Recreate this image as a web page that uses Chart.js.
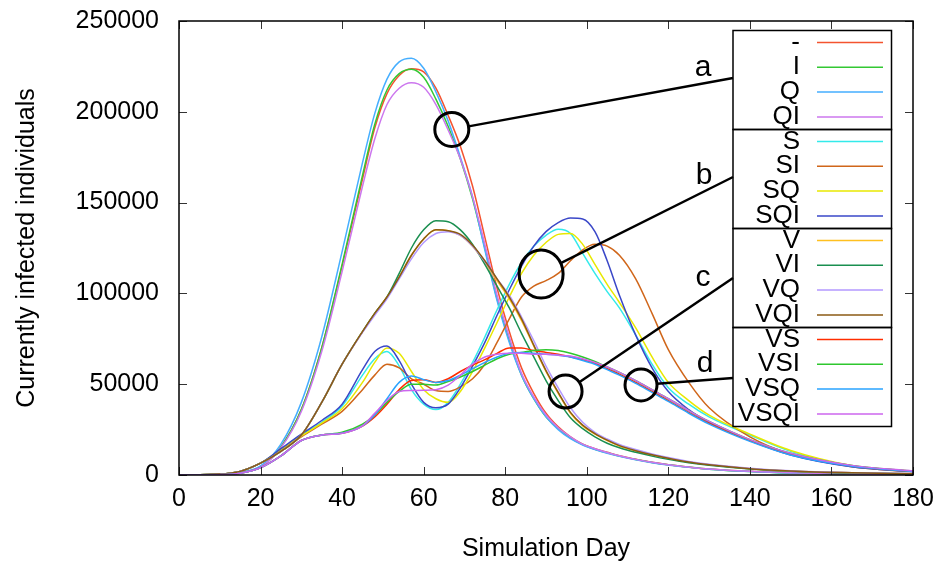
<!DOCTYPE html>
<html>
<head>
<meta charset="utf-8">
<script src="https://cdn.jsdelivr.net/npm/chart.js@4.4.0/dist/chart.umd.min.js"></script>
<style>
  html, body { margin: 0; padding: 0; background: #fff; }
  #wrap { width: 943px; height: 568px; }
</style>
</head>
<body>
<div id="wrap"><canvas id="chart" width="943" height="568"></canvas></div>
<script>
// sample days (x) shared by every series
const days = [0,10,15,20,25,30,35,40,45,48,51,54,57,60,63,66,69,72,75,78,81,84,87,90,93,96,99,102,105,108,112,116,120,125,130,140,150,165,180];

// currently infected individuals, in thousands
const sNone = [0,0.3,1.3,4.5,15.5,36,70,115,163,191,210,220,223.7,222,213,198,181,159,131,103,79,59,45,34,26.5,21,17,14.5,12.5,10.6,8.7,7,5.7,4.4,3.3,2,1.2,0.55,0.3];
const sI    = [0,0.3,1.3,4.5,15.5,36,70,116,165,193,212,221,223.4,219,207,192,174,152,125,97,74,55,42,32,25.5,20.5,16.8,14.2,12.2,10.4,8.5,6.9,5.6,4.3,3.2,1.9,1.1,0.5,0.3];
const sQ    = [0,0.4,1.5,5,17,40,76,123,172,199,218,227.5,229.5,224,211,195,175,153,124,96,73,55,42,32,25,20,16.5,14,12,10.3,8.4,6.8,5.5,4.2,3.2,1.9,1.1,0.5,0.3];
const sQI   = [0,0.3,1.2,4.3,15,35,68,112,159,185,204,213,216,213.5,204,190,174,153,127,99,76,56,43,33,26,21,17,14.5,12.4,10.6,8.6,7,5.7,4.4,3.3,2,1.2,0.55,0.3];

const sS    = [0,0.5,2,6.5,14,22,29,38,55,64,68,60,47,39,36,40,50,62,76,91,105,117,126,132,135.3,133,122,111,101,92,77,61,48,39,32,22,13,5,2];
const sSI   = [0,0.5,2,6.5,13.5,21,28,35,47,55,61,59,53,50,46.5,46,48.5,53,61,73,86,98,104,107,111,118,124,127,126,121,108,89,69,51,37,21,11.5,4.5,1.8];
const sSQ   = [0,0.5,2,6.5,14,21.5,28.5,36.5,51,62,70,67,57,47,42,40,46,57,70,84,98,111,121,128,132.5,133,127,116,105,95,81,65,51,41,33,22.5,13.5,5.2,2];
const sSQI  = [0,0.5,2,6.5,14.5,22.5,30,39,58,68,71,63,50,40,37,39,48,60,73,88,102,115,126,134,139,141.5,141,134,118,99,77,59,46,36,29,19,11,4.5,1.8];

const sV    = [0,0.5,2,6.5,13,22,40,61,79,89,98,109,121,130,135,134.5,132,126,117,107,97,85,71,57,45,34,27,22.5,19,16,13.3,11,9.2,7.1,5.6,3.5,2.2,1.2,0.7];
const sVI   = [0,0.5,2,6.5,13,22,40,61,79,89,98,111,125,135,140,139.5,135,127,116,104,92,78,65,52,41,31.5,25.5,21,17.5,15,12.5,10.4,8.6,6.7,5.3,3.3,2.1,1.1,0.7];
const sVQ   = [0,0.5,2,6.5,13,22,40,61,78.5,88,97,108,119,128,133,134,132,126,117.5,108,99,87,74,60,48,37,29,23.5,19.8,16.8,14,11.6,9.6,7.5,5.9,3.7,2.3,1.3,0.8];
const sVQI  = [0,0.5,2,6.5,13,22,40,61,79,89,98,109,121,130,135,134.5,132.5,126.5,118,108,98,86,71.5,57.5,45.5,34.5,27.5,22.8,19.2,16.2,13.4,11.1,9.2,7.1,5.6,3.5,2.2,1.2,0.7];

const sVS   = [0,0.2,1,4,10.5,19,22,23,27,32,39,47,52,52.5,51,53,57,60.5,63.5,67,70,70,68.5,67.5,66.5,65,63.5,61.5,58.5,55.5,51,46,41,34.5,28.5,19,11.5,5,2];
const sVSI  = [0,0.2,1,4,10.5,19,22,23.5,28,33,40,46,50,50,49.5,51.5,54,57,60.5,64,66.5,67.5,68.5,69,68.5,67,65,62.5,59.5,56.5,52,47,42,35.5,29.5,19.5,12,5.2,2.1];
const sVSQ  = [0,0.2,1,4,10.5,19,22,23,27,33,42,51,54.5,52.5,51,52,55,58.5,62,65,67,67.5,67,66.5,66,65,63,61,58,55,50.5,45.5,40.5,34,28,18.5,11,4.8,1.9];
const sVSQI = [0,0.2,1,4,10.5,19,22,23,27,34,41,46,46.5,46.7,47,49.5,55,61,65,66.5,67,67,66.5,66.5,66,65.5,64,62,59.5,56.5,52,47,42,35.5,29.5,19.5,12,5.3,2.2];

const seriesNames = ['-','I','Q','QI','S','SI','SQ','SQI','V','VI','VQ','VQI','VS','VSI','VSQ','VSQI'];
const seriesData = [sNone,sI,sQ,sQI,sS,sSI,sSQ,sSQI,sV,sVI,sVQ,sVQI,sVS,sVSI,sVSQ,sVSQI];
const colors = ['#f4532f','#33c833','#45aeff','#cc77ee',
                '#33eaea','#d0661a','#e8e800','#3a47c8',
                '#ffc020','#1a8f50','#b399ff','#8b5a14',
                '#ff2d00','#2ec72e','#29a3ff','#cc66ee'];

// circled groups: [letter, day, value, radius x, radius y, legend anchor y, letter x, letter y]
const notes = [
  ['a', 66.9, 190300, 17, 17, 78, 703, 68],
  ['b', 88.8, 110700, 22, 24, 177, 704, 176],
  ['c', 94.8, 46000, 16.5, 16.5, 278, 703, 278],
  ['d', 113.3, 49600, 16, 16, 378, 705, 364]
];

const FONT = "'Liberation Sans', Arial, Helvetica, sans-serif";

const datasets = seriesData.map((arr, i) => ({
  label: seriesNames[i],
  data: days.map((d, j) => ({ x: d, y: arr[j] * 1000 })),
  borderColor: colors[i],
  backgroundColor: colors[i],
  borderWidth: 1.5,
  pointRadius: 0,
  cubicInterpolationMode: 'monotone',
  fill: false,
  order: 16 - i
}));

// frame, inward ticks, grouped key and circled notes
const gnuplotBits = {
  id: 'gnuplotBits',
  afterDatasetsDraw(chart) {
    const ctx = chart.ctx;
    const area = chart.chartArea;
    const xs = chart.scales.x, ys = chart.scales.y;
    ctx.save();

    ctx.strokeStyle = '#333';
    ctx.lineWidth = 1;
    ctx.beginPath();
    xs.ticks.forEach(t => {
      const px = Math.round(xs.getPixelForValue(t.value)) + 0.5;
      ctx.moveTo(px, area.bottom); ctx.lineTo(px, area.bottom - 8);
      ctx.moveTo(px, area.top); ctx.lineTo(px, area.top + 8);
    });
    ys.ticks.forEach(t => {
      const py = Math.round(ys.getPixelForValue(t.value)) + 0.5;
      ctx.moveTo(area.left, py); ctx.lineTo(area.left + 8, py);
      ctx.moveTo(area.right, py); ctx.lineTo(area.right - 8, py);
    });
    ctx.stroke();

    ctx.strokeStyle = '#000';
    ctx.lineWidth = 1.5;
    ctx.strokeRect(area.left, area.top, area.right - area.left, area.bottom - area.top);

    // key
    const kx0 = 733, kx1 = 891.5, ky0 = 30.5, gh = 99, step = 24.8;
    ctx.fillStyle = '#fff';
    ctx.fillRect(kx0, ky0, kx1 - kx0, gh * 4);
    ctx.lineWidth = 1.5;
    ctx.strokeStyle = '#000';
    for (let g = 0; g < 4; g++) ctx.strokeRect(kx0, ky0 + g * gh, kx1 - kx0, gh);
    ctx.font = '26px ' + FONT;
    ctx.textAlign = 'right';
    ctx.textBaseline = 'alphabetic';
    chart.data.datasets.forEach((ds, i) => {
      const y = ky0 + 12 + step * i + Math.floor(i / 4) * (gh - 4 * step);
      ctx.fillStyle = '#000';
      ctx.fillText(ds.label, 800, y + 7);
      ctx.strokeStyle = ds.borderColor;
      ctx.lineWidth = 1.5;
      ctx.beginPath();
      ctx.moveTo(817, y); ctx.lineTo(883, y);
      ctx.stroke();
    });

    // circled groups
    ctx.strokeStyle = '#000';
    ctx.fillStyle = '#000';
    ctx.font = '30px ' + FONT;
    ctx.textAlign = 'center';
    ctx.textBaseline = 'middle';
    notes.forEach(n => {
      const cx = xs.getPixelForValue(n[1]);
      const cy = ys.getPixelForValue(n[2]);
      ctx.lineWidth = 3;
      ctx.beginPath();
      ctx.ellipse(cx, cy, n[3], n[4], 0, 0, Math.PI * 2);
      ctx.stroke();
      const ang = Math.atan2(n[5] - cy, kx0 - cx);
      ctx.lineWidth = 2.5;
      ctx.beginPath();
      ctx.moveTo(cx + n[3] * Math.cos(ang), cy + n[4] * Math.sin(ang));
      ctx.lineTo(kx0, n[5]);
      ctx.stroke();
      ctx.fillText(n[0], n[6], n[7]);
    });
    ctx.restore();
  }
};

new Chart(document.getElementById('chart').getContext('2d'), {
  type: 'line',
  data: { datasets: datasets },
  options: {
    responsive: false,
    animation: false,
    devicePixelRatio: 1,
    layout: { padding: { left: 0, right: 30, top: 21, bottom: 0 } },
    plugins: {
      legend: { display: false },
      tooltip: { enabled: false }
    },
    scales: {
      x: {
        type: 'linear',
        min: 0,
        max: 180,
        ticks: { stepSize: 20, color: '#000', padding: 9, font: { family: FONT, size: 25 } },
        grid: { display: false, drawTicks: false },
        border: { display: false },
        title: { display: true, text: 'Simulation Day', color: '#000',
                 font: { family: FONT, size: 25, lineHeight: 1.2 }, padding: { top: 0, bottom: 4 } },
        afterFit: s => { s.height = 93; s.paddingLeft = 0; s.paddingRight = 0; }
      },
      y: {
        min: 0,
        max: 250000,
        ticks: { stepSize: 50000, color: '#000', padding: 20, font: { family: FONT, size: 25 },
                 callback: v => String(v) },
        grid: { display: false, drawTicks: false },
        border: { display: false },
        title: { display: true, text: 'Currently infected individuals', color: '#000',
                 font: { family: FONT, size: 25, lineHeight: 1.2 }, padding: { top: 12, bottom: 0 } },
        afterFit: s => { s.width = 179; s.paddingTop = 0; s.paddingBottom = 0; }
      }
    }
  },
  plugins: [gnuplotBits]
});
</script>
</body>
</html>
